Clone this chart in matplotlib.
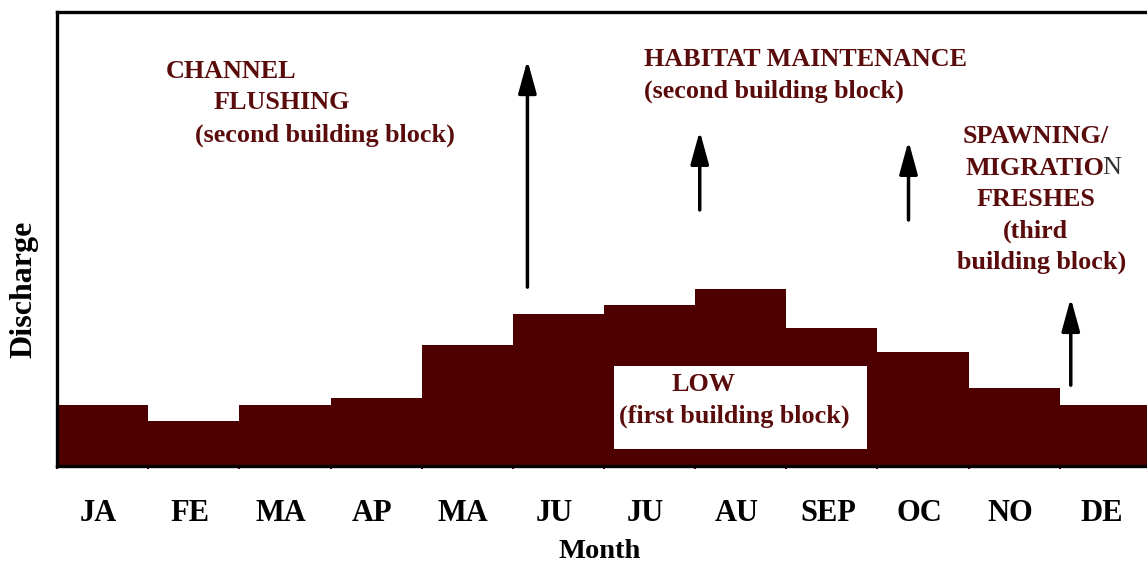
import numpy as np
import matplotlib
matplotlib.use("Agg")
import matplotlib.pyplot as plt
import matplotlib.transforms as mtransforms
from matplotlib.patches import Rectangle

# monthly discharge (relative units)
months = ["JA", "FE", "MA", "AP", "MA", "JU", "JU", "AU", "SEP", "OC", "NO", "DE"]
discharge = [13.4, 9.9, 13.4, 15.0, 26.7, 33.5, 35.5, 39.0, 30.4, 25.1, 17.2, 13.4]

# flood arrows: x position, tail, head
arrow_x = [5.16, 7.05, 9.34, 11.12]
arrow_tail = [39.4, 56.4, 54.2, 17.8]
arrow_head = [89.4, 73.8, 71.6, 37.0]

BAR = "#4e0000"
TXT = "#5a0c0c"
SERIF = ["Liberation Serif", "DejaVu Serif"]

plt.rcParams['font.family'] = SERIF

fig = plt.figure(figsize=(11.47, 5.67), dpi=100)
ax = fig.add_axes([57/1147, 101/567, 1094/1147, 454/567])

x = np.arange(len(months))
ax.bar(x + 0.5, discharge, width=1.0, color=BAR, edgecolor=BAR, linewidth=0)
ax.set_xlim(0, 12)
ax.set_ylim(0, 100)

ax.set_xticks(x + 0.5)
ax.set_xticklabels(months, fontsize=22, fontweight='bold')
ax.tick_params(axis='x', length=0, pad=23.5)
shift = mtransforms.ScaledTranslation(-4/100, 0, fig.dpi_scale_trans)
for lab in ax.get_xticklabels():
    lab.set_transform(lab.get_transform() + shift)
ax.set_xticks(np.arange(13), minor=True)
ax.tick_params(axis='x', which='minor', length=2, color=BAR, width=1.5)
ax.set_yticks([])

for s in ['left', 'top', 'bottom']:
    ax.spines[s].set_linewidth(2.4)
    ax.spines[s].set_color('black')
ax.spines['right'].set_visible(False)

ax.set_xlabel("Month", fontsize=20.5, fontweight='bold', va='center')
ax.xaxis.set_label_coords(0.496, -0.188)
ax.set_ylabel("Discharge", fontsize=23, fontweight='bold', va='center')
ax.yaxis.set_label_coords(-0.030, 0.39)

# white box for the low-flow label
box = Rectangle((6.11, 3.74), 2.78, 18.26, facecolor='white', edgecolor='none', zorder=3)
ax.add_patch(box)

kw = dict(color=TXT, fontsize=18.8, fontweight='bold', va='center', ha='left', zorder=4)
ax.text(1.195, 86.8, "CHANNEL", **kw)
ax.text(1.72, 80.0, "FLUSHING", **kw)
ax.text(1.513, 72.9, "(second building block)", **kw)
ax.text(6.44, 89.6, "HABITAT MAINTENANCE", **kw)
ax.text(6.44, 82.6, "(second building block)", **kw)
ax.text(9.93, 72.5, "SPAWNING/", **kw)
t = ax.text(9.96, 65.6, "MIGRATIO", **kw)
fig.canvas.draw()
bb = t.get_window_extent().transformed(ax.transData.inverted())
ax.text(bb.x1 - 0.02, 65.6, "N", color='#333333', fontsize=18.8, va='center', ha='left', zorder=4)
ax.text(10.09, 58.8, "FRESHES", **kw)
ax.text(10.38, 51.8, "(third", **kw)
ax.text(9.87, 44.9, "building block)", **kw)
ax.text(6.74, 17.9, "LOW", **kw)
low2 = ax.text(6.17, 11.0, "(first building block)", **kw)
clip = Rectangle((6.0, 9.0), 3.0, 20, transform=ax.transData, visible=False)
ax.add_patch(clip)
low2.set_clip_path(clip)

for xa, y0, y1 in zip(arrow_x, arrow_tail, arrow_head):
    ax.annotate("", xy=(xa, y1), xytext=(xa, y0), zorder=5,
                arrowprops=dict(arrowstyle="-|>,head_length=2.0,head_width=0.55",
                                color='black', lw=2.5, shrinkA=0, shrinkB=0))

fig.savefig("out.png", dpi=100)
